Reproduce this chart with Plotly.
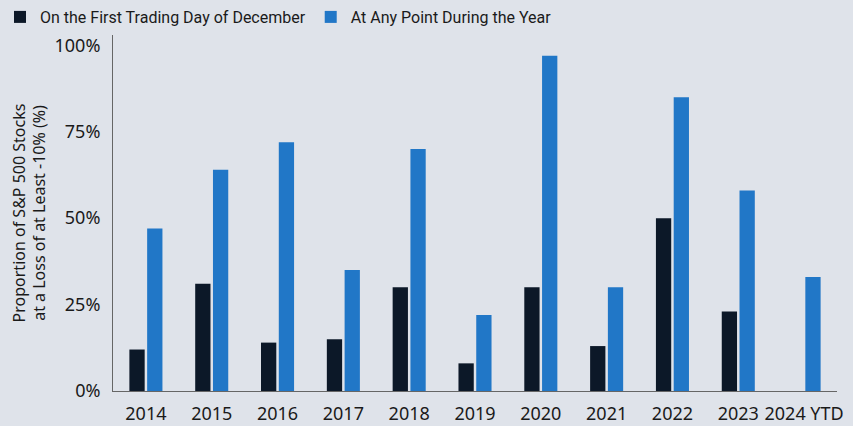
import plotly.graph_objects as go

years = ["2014", "2015", "2016", "2017", "2018", "2019", "2020", "2021", "2022", "2023", "2024 YTD"]
first_day_dec = [12, 31, 14, 15, 30, 8, 30, 13, 50, 23, None]
any_point = [47, 64, 72, 35, 70, 22, 97, 30, 85, 58, 33]
y_ticks = [0, 25, 50, 75, 100]
y_tick_labels = ["0%", "25%", "50%", "75%", "100%"]

BG = "#dfe3ea"
DARK = "#0c1828"
BLUE = "#2177c7"
FONT_NARROW = "Liberation Sans Narrow, Roboto"
FONT = "'Noto Sans', 'Open Sans', 'DejaVu Sans'"

fig = go.Figure()
fig.add_trace(go.Bar(x=years, y=first_day_dec, name="On the First Trading Day of December",
                     marker=dict(color=DARK, line=dict(width=0))))
fig.add_trace(go.Bar(x=years, y=any_point, name="At Any Point During the Year",
                     marker=dict(color=BLUE, line=dict(width=0))))

fig.update_layout(
    width=853, height=426,
    paper_bgcolor=BG, plot_bgcolor=BG,
    font=dict(family=FONT, size=16, color="#1a1a1a"),
    margin=dict(l=113, r=16, t=35, b=35, autoexpand=False),
    barmode="group", bargap=0.46, bargroupgap=0.14,
    showlegend=True,
    legend=dict(orientation="h", xref="container", yref="container",
                x=0.0, xanchor="left", y=1.0, yanchor="top",
                font=dict(size=16, family=FONT_NARROW, color="#1a1a1a"),
                itemwidth=30, bgcolor="rgba(0,0,0,0)", traceorder="normal"),
    xaxis=dict(showgrid=False, showline=True, linecolor="#666666", linewidth=1,
               ticks="", tickfont=dict(size=18), zeroline=False, automargin=False,
               ticklabelstandoff=6),
    yaxis=dict(range=[0, 103], tickvals=y_ticks, ticktext=y_tick_labels,
               showgrid=False, showline=True, linecolor="#666666", linewidth=1,
               ticks="", tickfont=dict(size=18), zeroline=False, ticklabelstandoff=8,
               automargin=False,
               title=dict(text="Proportion of S&P 500 Stocks<br>at a Loss of at Least -10% (%)",
                          font=dict(size=16), standoff=4)),
)

fig.write_html("out.html", config={"displayModeBar": False},
               post_script="document.body.style.margin='0';document.body.style.background='#dfe3ea';")
